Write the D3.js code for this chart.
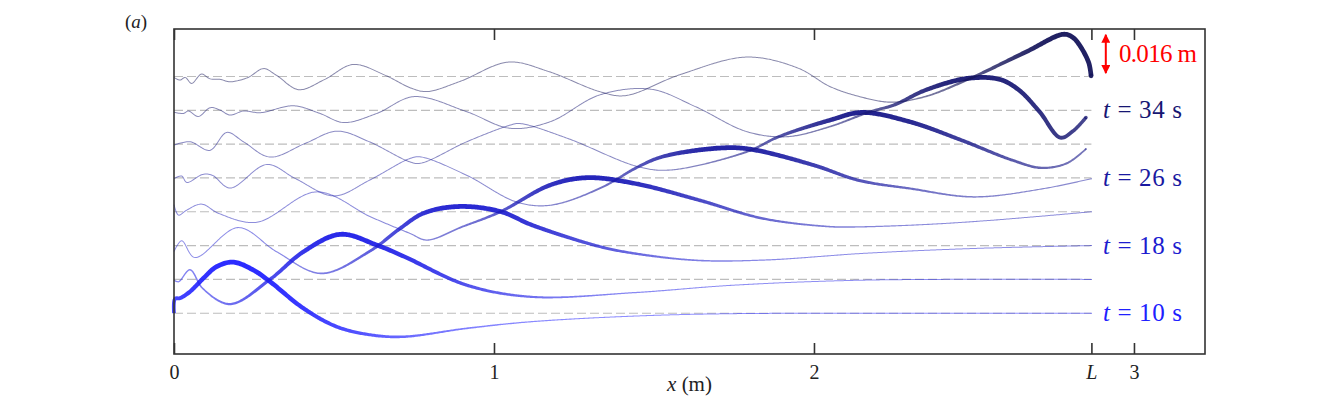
<!DOCTYPE html>
<html>
<head>
<meta charset="utf-8">
<script src="https://cdn.jsdelivr.net/npm/d3@7/dist/d3.min.js"></script>
<style>
  body { margin: 0; background: #fff; }
  svg { display: block; }
  svg text { font-family: "Liberation Serif", serif; }
</style>
</head>
<body>
<svg id="chart" width="1334" height="400"></svg>
<script>
// snapshot times (s), bottom to top
const times = [10, 14, 18, 22, 26, 30, 34, 38];
const labelledTimes = [10, 18, 26, 34];
const xTickValues = [0, 1, 2, 3];
const tankLength = 2.867;   // L (m)
const offsetStep = 14.1;    // shift between snapshots (mm)
const scaleBarMm = 16;      // 0.016 m

// free surface profiles, x in m, eta in mm
const x10 = [0, 0.003, 0.019, 0.05, 0.092, 0.133, 0.185, 0.248, 0.30, 0.404, 0.508, 0.613, 0.717, 0.915, 1.12, 1.456, 1.74, 2.2, 2.867];
const eta10 = [0, 6.0, 6.3, 9.0, 14.6, 19.4, 21.3, 18.0, 13.2, 2.1, -5.6, -9.0, -9.8, -6.3, -3.5, -1.1, -0.2, 0, 0];

const x14 = [0, 0.014, 0.05, 0.09, 0.175, 0.30, 0.404, 0.52, 0.634, 0.72, 0.915, 1.12, 1.44, 1.75, 2.16, 2.867];
const eta14 = [-0.3, -1.0, 4.0, -3.8, -10.3, 0, 11.5, 18.8, 14.3, 9.5, -2.4, -7.3, -5.5, -2.4, -0.3, 0];

const x18 = [0, 0.024, 0.065, 0.2, 0.32, 0.46, 0.61, 0.705, 0.78, 0.89, 1.02, 1.12, 1.33, 1.45, 1.64, 1.85, 2.16, 2.5, 2.867];
const eta18 = [-2.5, 2.0, -5.0, 7.5, -2.5, -11.6, -2.5, 7.0, 13.5, 16.3, 14.2, 8.5, -0.4, -3.5, -6.2, -6.0, -3.2, -1.2, 0];

const x22 = [0, 0.014, 0.04, 0.086, 0.14, 0.258, 0.446, 0.614, 0.737, 0.79, 0.9, 1.02, 1.175, 1.29, 1.44, 1.64, 1.84, 2.05, 2.14, 2.35, 2.56, 2.867];
const eta22 = [3.0, -1.4, 0.7, 3.2, -0.7, -4.4, 8.3, -2.1, -9.0, -11.8, -6.3, 0, 11.1, 14.2, 11.8, 4.9, -2.8, -6.2, -6.3, -5.3, -3.5, 0];

const x26 = [0, 0.024, 0.04, 0.09, 0.12, 0.175, 0.29, 0.38, 0.5, 0.61, 0.737, 0.77, 0.915, 1.07, 1.175, 1.33, 1.45, 1.53, 1.71, 1.8, 2.0, 2.14, 2.3, 2.5, 2.72, 2.867];
const eta26 = [-0.3, 0.8, -1.9, 1.5, 1.1, -4.2, 5.6, -0.3, -7.5, -1.0, 8.1, 8.8, 1.1, -10.0, -11.4, -4.4, 4.6, 9.0, 12.5, 12.0, 5.3, -1.0, -4.4, -7.9, -4.4, -0.3];

const x30 = [0, 0.05, 0.112, 0.165, 0.217, 0.30, 0.41, 0.51, 0.61, 0.737, 0.77, 0.915, 1.05, 1.08, 1.23, 1.45, 1.55, 1.79, 1.89, 2.05, 2.15, 2.3, 2.46, 2.62, 2.71, 2.79, 2.85];
const eta30 = [-0.4, 1.0, -2.6, 4.9, 1.0, -5.4, 0.3, 5.4, 1.0, -7.4, -8.0, 1.0, 7.9, 8.6, 2.4, -9.4, -10.8, -3.2, 3.1, 10.0, 13.2, 9.3, 1.7, -6.7, -9.9, -8.0, -2.0];

const x34 = [0, 0.03, 0.045, 0.076, 0.113, 0.144, 0.175, 0.217, 0.27, 0.373, 0.456, 0.53, 0.634, 0.75, 0.915, 1.05, 1.175, 1.33, 1.49, 1.63, 1.79, 1.915, 2.05, 2.175, 2.25, 2.35, 2.48, 2.58, 2.64, 2.705, 2.77, 2.81, 2.85];
const eta34 = [-0.8, -1.3, -0.3, -2.6, 1.1, 0.1, -2.0, -0.3, -1.0, 1.9, -1.3, -5.1, -1.3, 5.7, -0.6, -7.5, -4.8, 6.4, 8.8, 1.5, -8.9, -11.0, -6.8, -0.6, 2.2, 8.5, 13.3, 12.9, 8.5, -0.6, -11.4, -8.6, -3.0];

const x38 = [0, 0.019, 0.035, 0.055, 0.086, 0.113, 0.144, 0.175, 0.23, 0.28, 0.32, 0.39, 0.47, 0.56, 0.66, 0.74, 0.79, 0.895, 1.045, 1.17, 1.33, 1.41, 1.58, 1.79, 1.95, 2.05, 2.14, 2.24, 2.35, 2.49, 2.665, 2.78, 2.81, 2.836, 2.859, 2.866];
const eta38 = [-0.4, -1.5, -0.4, -2.9, 1.0, -1.0, -1.2, -2.2, -0.5, 3.3, 0.5, -5.5, -1.3, 5.0, 0.5, -4.8, -6.3, -2.0, 6.0, 2.1, -6.3, -8.0, 0.7, 8.1, 3.5, -4.2, -8.3, -10.7, -8.3, -0.7, 10.4, 17.6, 16.2, 11.8, 5.6, 0.3];

const profileX = [x10, x14, x18, x22, x26, x30, x34, x38];
const profileEta = [eta10, eta14, eta18, eta22, eta26, eta30, eta34, eta38];

const svg = d3.select("#chart");
const plot = {left: 174, right: 1205, top: 29, bottom: 354};

const xScale = d3.scaleLinear().domain([0, 3.222]).range([plot.left, plot.right]);
const yScale = d3.scaleLinear().domain([-17, 118.5]).range([plot.bottom, plot.top]);

const colorOf = i => d3.interpolateRgb("#2020ff", "#14145a")(i / (times.length - 1));

// thick around the leading crest, thin far from it
function bump(x, crest) {
    const s = x < crest ? 0.32 : 0.55;
    return Math.exp(-Math.pow((x - crest) / s, 2));
}
const widthAt = (x, crest) => 1.0 + 3.8 * bump(x, crest);
const alphaAt = (x, crest) => 0.5 + 0.45 * bump(x, crest);

const defs = svg.append("defs");

// still water levels
svg.append("g")
    .selectAll("line")
    .data(times)
    .enter().append("line")
    .attr("x1", xScale(0))
    .attr("x2", xScale(tankLength))
    .attr("y1", (d, i) => yScale(i * offsetStep))
    .attr("y2", (d, i) => yScale(i * offsetStep))
    .attr("stroke", "#bdbdbd")
    .attr("stroke-width", 1.2)
    .attr("stroke-dasharray", "9,4");

const line = d3.line()
    .x(d => xScale(d[0]))
    .y(d => yScale(d[1]))
    .curve(d3.curveCatmullRom.alpha(0.5));

const curves = svg.append("g");

times.forEach((t, i) => {
    const xs = profileX[i];
    const etas = profileEta[i];
    const pts = xs.map((x, k) => [x, etas[k] + i * offsetStep]);
    const crest = xs[d3.maxIndex(etas)];
    const col = colorOf(i);

    const grad = defs.append("linearGradient")
        .attr("id", "grad" + i)
        .attr("gradientUnits", "userSpaceOnUse")
        .attr("x1", xScale(0)).attr("x2", xScale(tankLength))
        .attr("y1", 0).attr("y2", 0);
    d3.range(0, 61).forEach(k => {
        const f = k / 60;
        grad.append("stop")
            .attr("offset", f)
            .attr("stop-color", col)
            .attr("stop-opacity", alphaAt(f * tankLength, crest));
    });

    // sample the smooth curve, then build a band of varying width
    const tmp = svg.append("path").attr("d", line(pts)).attr("fill", "none");
    const node = tmp.node();
    const len = node.getTotalLength();
    const n = Math.ceil(len / 1.2);
    const samples = d3.range(n + 1).map(k => node.getPointAtLength(len * k / n));
    tmp.remove();

    const left = [], right = [];
    samples.forEach((p, k) => {
        const a = samples[Math.max(0, k - 1)];
        const b = samples[Math.min(n, k + 1)];
        const tx = b.x - a.x, ty = b.y - a.y;
        const m = Math.hypot(tx, ty) || 1;
        const nx = -ty / m, ny = tx / m;
        const w = widthAt(xScale.invert(p.x), crest) / 2;
        left.push([p.x + nx * w, p.y + ny * w]);
        right.push([p.x - nx * w, p.y - ny * w]);
    });
    const band = left.concat(right.reverse());

    curves.append("path")
        .attr("d", "M" + band.map(p => p[0].toFixed(2) + "," + p[1].toFixed(2)).join("L") + "Z")
        .attr("fill", "url(#grad" + i + ")");

    const end = samples[n];
    const endX = xScale.invert(end.x);
    curves.append("circle")
        .attr("cx", end.x).attr("cy", end.y)
        .attr("r", widthAt(endX, crest) / 2)
        .attr("fill", col)
        .attr("fill-opacity", alphaAt(endX, crest));
});

// frame and ticks
svg.append("rect")
    .attr("x", plot.left).attr("y", plot.top)
    .attr("width", plot.right - plot.left)
    .attr("height", plot.bottom - plot.top)
    .attr("fill", "none")
    .attr("stroke", "#333")
    .attr("stroke-width", 1.6);

const tickVals = [0, 1, 2, tankLength, 3];
const fmt = d => d === tankLength ? "L" : String(d);

const bottomAxis = svg.append("g")
    .attr("transform", `translate(0,${plot.bottom})`)
    .call(d3.axisBottom(xScale).tickValues(tickVals).tickSizeInner(-11).tickSizeOuter(0).tickPadding(11).tickFormat(fmt));
const topAxis = svg.append("g")
    .attr("transform", `translate(0,${plot.top})`)
    .call(d3.axisTop(xScale).tickValues(tickVals).tickSizeInner(-11).tickSizeOuter(0).tickFormat(""));

[bottomAxis, topAxis].forEach(g => {
    g.select(".domain").remove();
    g.selectAll(".tick line").attr("stroke", "#333").attr("stroke-width", 1.6);
});
bottomAxis.selectAll(".tick text")
    .attr("font-family", "Liberation Serif")
    .attr("font-size", 20)
    .attr("fill", "#222")
    .attr("font-style", d => d === tankLength ? "italic" : "normal");

const xLabel = svg.append("text")
    .attr("x", (plot.left + plot.right) / 2)
    .attr("y", 391)
    .attr("text-anchor", "middle")
    .attr("font-family", "Liberation Serif")
    .attr("font-size", 21)
    .attr("fill", "#222");
xLabel.append("tspan").attr("font-style", "italic").text("x");
xLabel.append("tspan").text(" (m)");

svg.append("text")
    .attr("x", 136).attr("y", 28)
    .attr("text-anchor", "middle")
    .attr("font-family", "Liberation Serif")
    .attr("font-size", 19)
    .attr("fill", "#222")
    .html('(<tspan font-style="italic">a</tspan>)');

// time labels at the right
labelledTimes.forEach(t => {
    const i = times.indexOf(t);
    const label = svg.append("text")
        .attr("x", xScale(2.903))
        .attr("y", yScale(i * offsetStep) + 8)
        .attr("font-family", "Liberation Serif")
        .attr("font-size", 25)
        .attr("fill", colorOf(i))
        .attr("textLength", 79)
        .attr("lengthAdjust", "spacing");
    label.append("tspan").attr("font-style", "italic").text("t");
    label.append("tspan").text(" = " + t + " s");
});

// scale bar
defs.append("marker")
    .attr("id", "arrowHead")
    .attr("viewBox", "0 0 10 10")
    .attr("refX", 9).attr("refY", 5)
    .attr("markerWidth", 4.5).attr("markerHeight", 4.5)
    .attr("orient", "auto-start-reverse")
    .append("path")
    .attr("d", "M0,0L10,5L0,10Z")
    .attr("fill", "red");

const topLevel = (times.length - 1) * offsetStep;
svg.append("line")
    .attr("x1", xScale(2.912)).attr("x2", xScale(2.912))
    .attr("y1", yScale(topLevel + 1.4))
    .attr("y2", yScale(topLevel + 1.4 + scaleBarMm))
    .attr("stroke", "red")
    .attr("stroke-width", 2)
    .attr("marker-start", "url(#arrowHead)")
    .attr("marker-end", "url(#arrowHead)");

svg.append("text")
    .attr("x", xScale(2.953))
    .attr("y", yScale(topLevel + 1.4 + scaleBarMm / 2) + 8)
    .attr("font-family", "Liberation Serif")
    .attr("font-size", 25)
    .attr("fill", "red")
    .attr("textLength", 78)
    .attr("lengthAdjust", "spacing")
    .text("0.016 m");
</script>
</body>
</html>
